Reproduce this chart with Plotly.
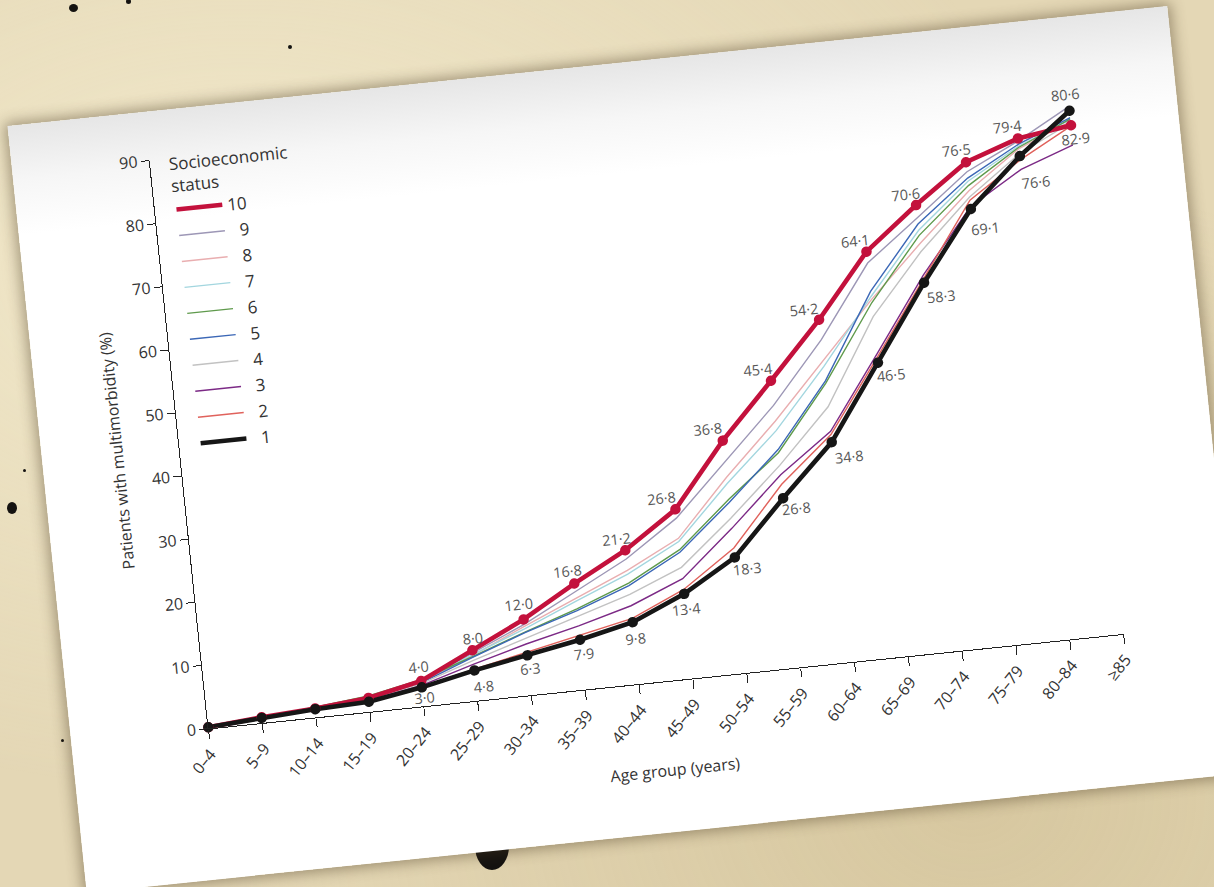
import plotly.graph_objects as go

# Age bands on the x axis
ages = ["0–4", "5–9", "10–14", "15–19", "20–24", "25–29", "30–34", "35–39", "40–44",
        "45–49", "50–54", "55–59", "60–64", "65–69", "70–74", "75–79", "80–84", "≥85"]

# Prevalence of multimorbidity (%) by socioeconomic status decile
status_10 = [0.2, 0.9, 1.4, 2.2, 4.0, 8.0, 12.0, 16.8, 21.2, 26.8, 36.8, 45.4, 54.2, 64.1, 70.6, 76.5, 79.4, 80.6]
status_9 = [0.2, 0.9, 1.5, 2.3, 3.9, 7.6, 11.2, 15.5, 19.8, 25.4, 33.5, 41.5, 51.0, 62.3, 68.6, 75.0, 79.0, 83.6]
status_8 = [0.2, 0.9, 1.4, 2.2, 3.8, 7.2, 10.9, 14.5, 18.0, 22.2, 31.0, 39.0, 47.8, 56.5, 64.5, 72.0, 77.8, 81.2]
status_7 = [0.2, 0.9, 1.5, 2.4, 3.9, 7.3, 10.5, 14.0, 17.4, 21.7, 30.0, 37.5, 46.8, 57.0, 66.6, 73.5, 78.2, 81.5]
status_6 = [0.2, 0.9, 1.6, 2.5, 4.2, 7.0, 10.0, 12.8, 16.0, 20.4, 27.5, 34.0, 44.1, 56.0, 65.8, 72.8, 78.0, 81.6]
status_5 = [0.2, 0.8, 1.4, 2.2, 3.7, 6.9, 9.9, 12.5, 15.6, 20.0, 27.0, 34.5, 44.5, 57.8, 67.6, 74.0, 78.5, 81.8]
status_4 = [0.2, 0.8, 1.4, 2.0, 3.6, 6.4, 9.0, 11.6, 14.2, 17.6, 24.5, 32.0, 40.4, 53.8, 63.2, 71.0, 77.0, 81.0]
status_3 = [0.2, 0.8, 1.3, 1.8, 3.3, 5.8, 8.1, 10.1, 12.4, 15.8, 22.9, 30.5, 36.5, 47.9, 59.5, 69.5, 74.5, 77.5]
status_2 = [0.2, 0.8, 1.3, 1.7, 3.1, 5.0, 6.8, 8.5, 10.4, 14.1, 19.8, 29.0, 36.0, 47.4, 59.0, 70.5, 76.0, 80.5]
status_1 = [0.2, 0.8, 1.3, 1.6, 3.0, 4.8, 6.3, 7.9, 9.8, 13.4, 18.3, 26.8, 34.8, 46.5, 58.3, 69.1, 76.6, 82.9]

y_ticks = [0, 10, 20, 30, 40, 50, 60, 70, 80, 90]

# Which points carry a value label (20-24 onwards on the two extreme deciles)
labelled = list(range(4, 18))

FONT = "Open Sans"
TEXT = "#333333"
LABEL = "#585858"

styles = {
    "10": dict(color="#c3113c", width=4.6),
    "9": dict(color="#9d97b6", width=1.4),
    "8": dict(color="#e9aeb0", width=1.4),
    "7": dict(color="#a3d6df", width=1.4),
    "6": dict(color="#5f9a4c", width=1.4),
    "5": dict(color="#3b67b6", width=1.4),
    "4": dict(color="#c2c2c2", width=1.4),
    "3": dict(color="#7c2a86", width=1.4),
    "2": dict(color="#e0625c", width=1.4),
    "1": dict(color="#161616", width=4.6),
}

series = [("10", status_10), ("9", status_9), ("8", status_8), ("7", status_7),
          ("6", status_6), ("5", status_5), ("4", status_4), ("3", status_3),
          ("2", status_2), ("1", status_1)]
names = [n for n, _ in series]
values = dict(series)

# label offsets (px) relative to each marker
red_shift = [(-1, 14), (1, 12), (-3, 15), (-5, 13), (-7, 12), (-13, 12), (-14, 13),
             (-12, 12), (-14, 12), (-10, 12), (-9, 12), (-8, 13), (-9, 13), (-3, 31)]
black_shift = [(2, -11), (7, -17), (1, -13), (2, -15), (1, -17), (0, -16), (11, -13),
               (12, -12), (16, -16), (12, -14), (16, -15), (13, -21), (14, -27), (3, -28)]

fig = go.Figure()

# thin lines first, heavy extremes on top; legend still lists 10 down to 1
draw_order = ["9", "8", "7", "6", "5", "4", "3", "2", "10", "1"]
for name in draw_order:
    st = styles[name]
    label = name if len(name) == 2 else "\u2007" + name
    fig.add_trace(go.Scatter(
        x=ages, y=values[name], mode="lines", name=label,
        line=dict(color=st["color"], width=st["width"]),
        legendrank=names.index(name) + 1, legendgroup=name, cliponaxis=False,
        hoverinfo="skip",
    ))

for name in ["10", "1"]:
    fig.add_trace(go.Scatter(
        x=ages, y=values[name], mode="markers", showlegend=False,
        marker=dict(color=styles[name]["color"], size=10.5),
        cliponaxis=False, hoverinfo="skip",
    ))


def fmt(v):
    return f"{v:.1f}".replace(".", "·")


annotations = []
for i, (dx, dy) in zip(labelled, red_shift):
    annotations.append(dict(x=ages[i], y=status_10[i], text=fmt(status_10[i]),
                            showarrow=False, xshift=dx, yshift=dy,
                            font=dict(family=FONT, size=14.5, color=LABEL)))
for i, (dx, dy) in zip(labelled, black_shift):
    annotations.append(dict(x=ages[i], y=status_1[i], text=fmt(status_1[i]),
                            showarrow=False, xshift=dx, yshift=dy,
                            font=dict(family=FONT, size=14.5, color=LABEL)))

fig.update_layout(
    width=1166, height=771,
    margin=dict(l=138, r=108, t=49, b=151),
    paper_bgcolor="rgba(0,0,0,0)", plot_bgcolor="rgba(0,0,0,0)",
    font=dict(family=FONT, size=16, color=TEXT),
    showlegend=True,
    legend=dict(
        x=0.018, y=1.018, xanchor="left", yanchor="top",
        bgcolor="rgba(0,0,0,0)", traceorder="grouped", tracegroupgap=1,
        itemwidth=46,
        title=dict(text="Socioeconomic<br>status", font=dict(size=17, color=TEXT)),
        font=dict(size=17, color=TEXT),
    ),
    xaxis=dict(
        type="category", range=[0, 17], showgrid=False, zeroline=False,
        showline=True, linecolor="#222", linewidth=1.4,
        ticks="outside", ticklen=9, tickwidth=1.3, tickcolor="#222",
        tickangle=-45, tickfont=dict(size=16, color=TEXT),
        title=dict(text="Age group (years)", standoff=22, font=dict(size=16, color=TEXT)),
    ),
    yaxis=dict(
        range=[0, 90], tickvals=y_ticks, showgrid=False, zeroline=False,
        showline=True, linecolor="#222", linewidth=1.4,
        ticks="outside", ticklen=8, tickwidth=1.3, tickcolor="#222",
        tickfont=dict(size=16, color=TEXT),
        title=dict(text="Patients with multimorbidity (%)", standoff=21,
                   font=dict(size=16, color=TEXT)),
    ),
    annotations=annotations,
)

# the printed sheet sits tilted on a beige desk
page_script = """
var gd = document.getElementById('{plot_id}');
document.documentElement.style.overflow = 'hidden';
document.body.style.margin = '0';
document.body.style.overflow = 'hidden';
document.body.style.background =
  'radial-gradient(ellipse at 20% 30%, rgba(255,250,225,0.5), rgba(0,0,0,0) 60%),' +
  'radial-gradient(ellipse at 80% 90%, rgba(190,170,120,0.35), rgba(0,0,0,0) 55%),' +
  '#e4d7b5';
var spots = [[73, 8, 9, 8], [128, 1, 5, 5], [290, 47, 4, 4], [12, 508, 10, 12],
             [24, 470, 3, 3], [62, 740, 3, 3], [492, 846, 34, 48]];
spots.forEach(function (s) {
  var d = document.createElement('div');
  d.style.position = 'absolute';
  d.style.left = (s[0] - s[2] / 2) + 'px';
  d.style.top = (s[1] - s[3] / 2) + 'px';
  d.style.width = s[2] + 'px';
  d.style.height = s[3] + 'px';
  d.style.borderRadius = '50%';
  d.style.background = '#141210';
  d.style.zIndex = '0';
  document.body.appendChild(d);
});
gd.style.position = 'absolute';
gd.style.left = '44px';
gd.style.top = '64px';
gd.style.zIndex = '1';
gd.style.transform = 'rotate(-5.9deg)';
gd.style.background = 'linear-gradient(180deg, #e6e6e6 0px, #f6f6f6 55px, #ffffff 110px)';
gd.style.boxShadow = '0 0 14px 3px rgba(70,55,30,0.45)';
"""

fig.write_html("out.html", post_script=page_script)
